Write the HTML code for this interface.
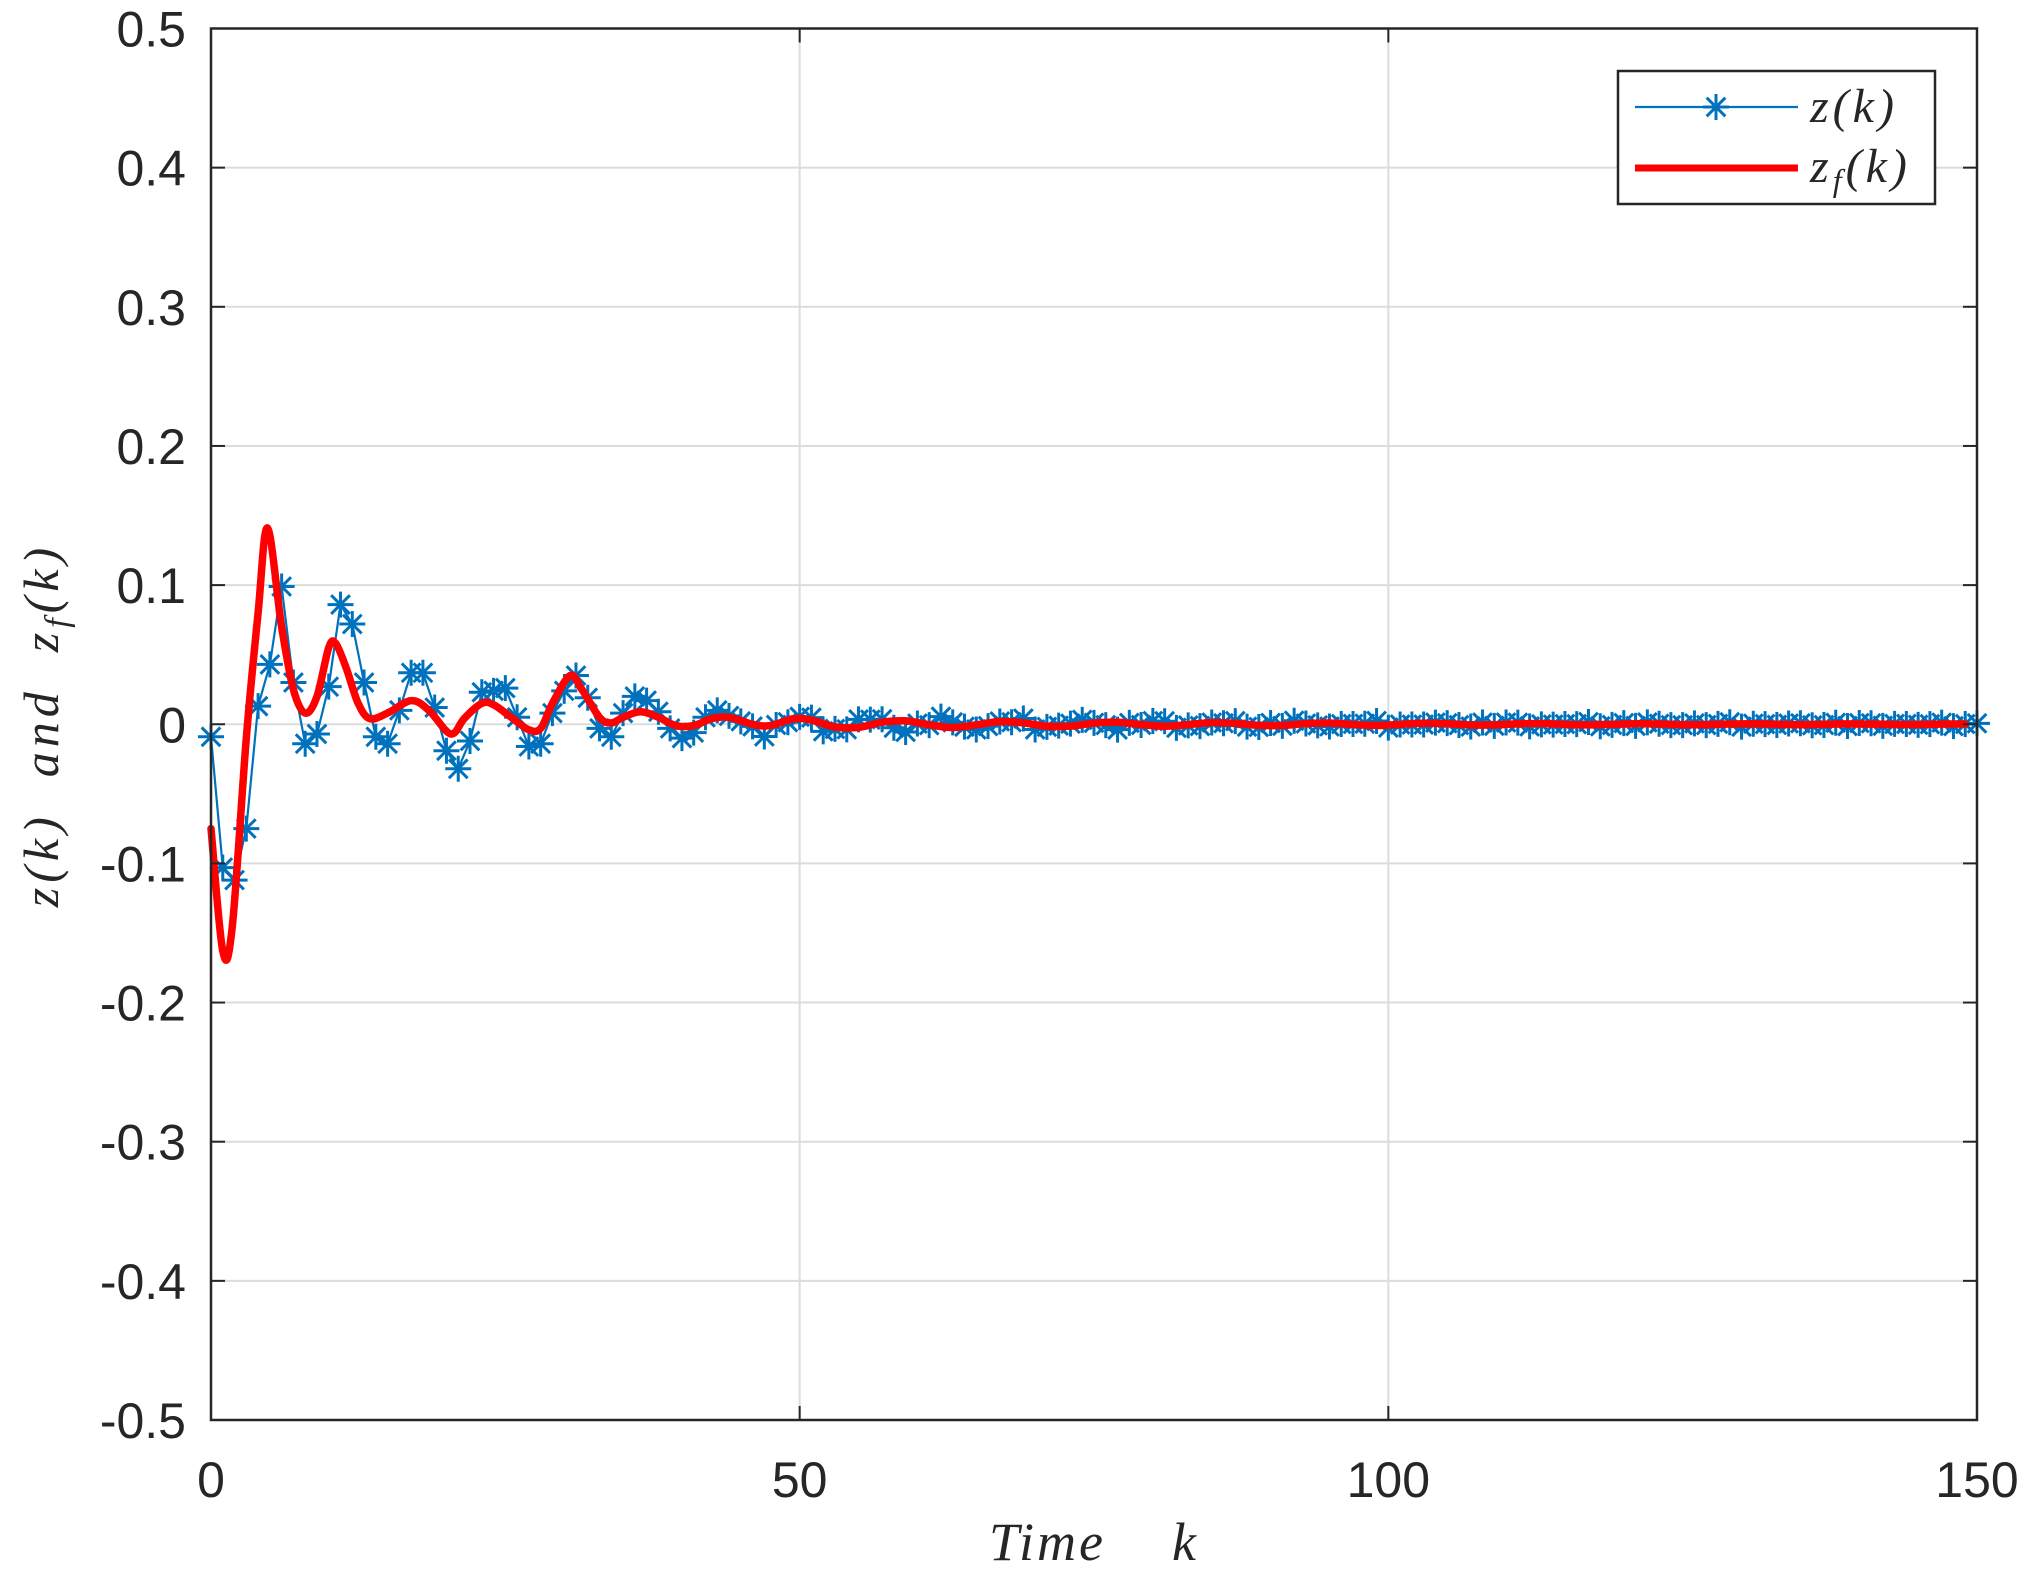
<!DOCTYPE html>
<html><head><meta charset="utf-8"><style>
html,body{margin:0;padding:0;background:#fff;}
svg{display:block;}
</style></head><body>
<svg id="s" xmlns="http://www.w3.org/2000/svg" width="2031" height="1577" viewBox="0 0 2031 1577">
<rect width="2031" height="1577" fill="#fff"/>
<g id="grid" stroke="#dcdcdc" stroke-width="2"></g>
<g id="data"></g>
<g id="axes"></g>
<g id="labels" font-family="Liberation Sans, sans-serif" font-size="50" fill="#262626"></g>
<text x="0" y="0" transform="translate(58,725) rotate(-90)" text-anchor="middle" font-family="Liberation Serif, serif" font-style="italic" font-size="50" letter-spacing="5" fill="#262626" xml:space="preserve">z(k)  and  z<tspan font-size="34" dy="10">f</tspan><tspan dy="-10">(k)</tspan></text>
<text x="1094" y="1560" text-anchor="middle" font-family="Liberation Serif, serif" font-style="italic" font-size="54" letter-spacing="3" fill="#262626" xml:space="preserve">Time    k</text>
<g id="legend"></g>
</svg>
<script>
const NS="http://www.w3.org/2000/svg";
const L=211,R=1977,T=28.5,B=1420;
const X=k=>L+(R-L)*k/150, Y=v=>724.25-1391.5*v;
function el(p,tag,a){const e=document.createElementNS(NS,tag);for(const k in a)e.setAttribute(k,a[k]);p.appendChild(e);return e;}
const grid=document.getElementById('grid'),axes=document.getElementById('axes'),labels=document.getElementById('labels'),data=document.getElementById('data');
for(let i=-5;i<=5;i++){const y=Y(i/10);if(i>-5&&i<5)el(grid,'line',{x1:L,x2:R,y1:y,y2:y});
 el(axes,'line',{x1:L,x2:L+14,y1:y,y2:y,stroke:'#262626','stroke-width':2});
 el(axes,'line',{x1:R-14,x2:R,y1:y,y2:y,stroke:'#262626','stroke-width':2});
 const t=el(labels,'text',{x:186,y:y+18,'text-anchor':'end'});t.textContent=i==0?'0':(i/10).toFixed(1);}
for(const k of [0,50,100,150]){const x=X(k);if(k>0&&k<150)el(grid,'line',{x1:x,x2:x,y1:T,y2:B});
 el(axes,'line',{x1:x,x2:x,y1:B-14,y2:B,stroke:'#262626','stroke-width':2});
 el(axes,'line',{x1:x,x2:x,y1:T,y2:T+14,stroke:'#262626','stroke-width':2});
 const t=el(labels,'text',{x:x,y:1497,'text-anchor':'middle'});t.textContent=k;}
el(axes,'rect',{x:L,y:T,width:R-L,height:B-T,fill:'none',stroke:'#262626','stroke-width':2.5});
let z=[-0.009,-0.103,-0.112,-0.075,0.013,0.043,0.099,0.030,-0.014,-0.007,0.027,0.086,0.072,0.030,-0.009,-0.014,0.010,0.037,0.037,0.012,-0.019,-0.032,-0.012,0.023,0.024,0.026,0.005,-0.016,-0.014,0.008,0.024,0.035,0.019,-0.003,-0.009,0.008,0.020,0.017,0.009,-0.003,-0.010,-0.006,0.005,0.010,0.006];
for(let k=z.length;k<=150;k++){z.push(0.007*Math.exp(-(k-44)/30)*Math.cos(2*Math.PI*(k-44)/6)+0.0025*Math.cos(2*Math.PI*k/2.3)*Math.exp(-(k-44)/60)+0.001*Math.cos(k*2.1));}
let d='';z.forEach((v,k)=>{d+=(k?'L':'M')+X(k).toFixed(1)+' '+Y(v).toFixed(1);});
el(data,'path',{d:d,fill:'none',stroke:'#0072BD','stroke-width':2.2});
function star(p,x,y){const r=13;let s=`M${x-r} ${y}h${2*r}M${x} ${y-r}v${2*r}`;const q=r*0.72;s+=`M${x-q} ${y-q}L${x+q} ${y+q}M${x-q} ${y+q}L${x+q} ${y-q}`;el(p,'path',{d:s,stroke:'#0072BD','stroke-width':3,fill:'none'});}
z.forEach((v,k)=>star(data,X(k),Y(v)));
let rp=[[0,-0.075],[1,-0.163],[1.8,-0.146],[3,-0.01],[4,0.08],[4.8,0.141],[6,0.07],[7,0.025],[8,0.008],[9,0.02],[10,0.055],[10.6,0.058],[11.5,0.04],[12.5,0.015],[13.5,0.004],[15,0.008],[17,0.017],[18.5,0.01],[20,-0.005],[20.7,-0.006],[21.5,0.004],[23,0.015],[24,0.014],[25.5,0.005],[27,-0.004],[28,-0.003],[29,0.015],[30.5,0.035],[31.5,0.025],[33,0.005],[34,0.001],[35,0.005],[36.5,0.009],[38,0.005],[39.5,-0.001],[41,-0.001],[42.5,0.004],[44,0.005],[46,0.0],[47.5,-0.001],[49.5,0.004],[51,0.003],[53,-0.002]];
for(let k=55;k<=150;k+=2){rp.push([k,0.003*Math.exp(-(k-54)/35)*Math.cos(2*Math.PI*(k-54)/9+Math.PI)]);}
const P=rp.map(p=>[X(p[0]),Y(p[1])]);
let rd='M'+P[0][0]+' '+P[0][1];
for(let i=0;i<P.length-1;i++){const p0=P[Math.max(0,i-1)],p1=P[i],p2=P[i+1],p3=P[Math.min(P.length-1,i+2)];
 const c1=[p1[0]+(p2[0]-p0[0])/6,p1[1]+(p2[1]-p0[1])/6],c2=[p2[0]-(p3[0]-p1[0])/6,p2[1]-(p3[1]-p1[1])/6];
 rd+=`C${c1[0].toFixed(1)} ${c1[1].toFixed(1)} ${c2[0].toFixed(1)} ${c2[1].toFixed(1)} ${p2[0].toFixed(1)} ${p2[1].toFixed(1)}`;}
el(data,'path',{d:rd,fill:'none',stroke:'#FF0000','stroke-width':7.5,'stroke-linejoin':'round','stroke-linecap':'round'});
const lg=document.getElementById('legend');
el(lg,'rect',{x:1618,y:71,width:317,height:133,fill:'#fff',stroke:'#262626','stroke-width':2.5});
el(lg,'line',{x1:1635,x2:1798,y1:107,y2:107,stroke:'#0072BD','stroke-width':2.2});
star(lg,1716,107);
el(lg,'line',{x1:1635,x2:1798,y1:168,y2:168,stroke:'#FF0000','stroke-width':7});
const t1=el(lg,'text',{x:1810,y:122,'font-family':'Liberation Serif, serif','font-style':'italic','font-size':48,'letter-spacing':4,fill:'#262626'});t1.textContent='z(k)';
const t2=el(lg,'text',{x:1810,y:182,'font-family':'Liberation Serif, serif','font-style':'italic','font-size':48,'letter-spacing':4,fill:'#262626'});
t2.innerHTML='z<tspan font-size="32" dy="9">f</tspan><tspan dy="-9">(k)</tspan>';
</script>
</body></html>
